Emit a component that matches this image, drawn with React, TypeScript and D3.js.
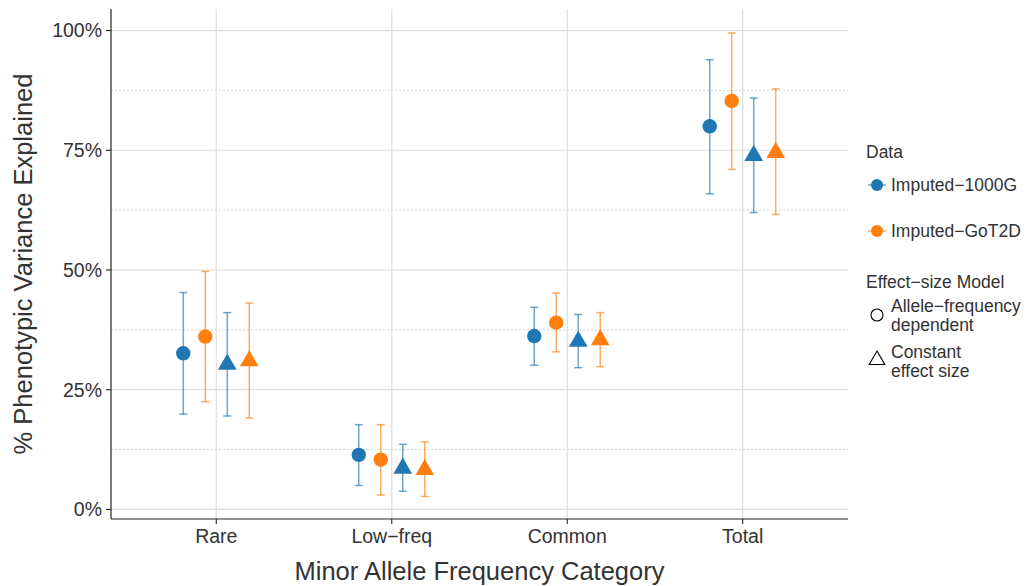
import React from "react";
import * as d3 from "d3";

const categories = ["Rare", "Low−freq", "Common", "Total"];
const groups = ["1000G-AF", "GoT2D-AF", "1000G-CE", "GoT2D-CE"];
const groupData = ["Imputed−1000G", "Imputed−GoT2D", "Imputed−1000G", "Imputed−GoT2D"];
const groupModel = ["af", "af", "ce", "ce"];

// estimate, lower, upper per group, in category order
const est1000gAF = [32.6, 11.4, 36.2, 80.0];
const lo1000gAF = [19.9, 5.0, 30.1, 65.9];
const hi1000gAF = [45.3, 17.7, 42.2, 93.9];

const estGot2dAF = [36.1, 10.4, 39.0, 85.3];
const loGot2dAF = [22.5, 3.0, 32.9, 71.0];
const hiGot2dAF = [49.7, 17.7, 45.2, 99.5];

const est1000gCE = [30.3, 8.6, 35.1, 73.9];
const lo1000gCE = [19.5, 3.8, 29.6, 62.0];
const hi1000gCE = [41.1, 13.6, 40.7, 85.9];

const estGot2dCE = [31.0, 8.3, 35.4, 74.5];
const loGot2dCE = [19.1, 2.7, 29.8, 61.6];
const hiGot2dCE = [43.1, 14.1, 41.1, 87.8];

const yTicks = [0, 25, 50, 75, 100];
const yMinor = [12.5, 37.5, 62.5, 87.5];

const colors: Record<string, string> = {
  "Imputed−1000G": "#1f77b4",
  "Imputed−GoT2D": "#ff7f0e",
};

const FONT = "'Liberation Sans', Arial, Helvetica, sans-serif";
const TEXT = "#333333";

const width = 1027;
const height = 586;
const margin = { top: 9, right: 179, bottom: 67, left: 111 };

const estimates = [est1000gAF, estGot2dAF, est1000gCE, estGot2dCE];
const lowers = [lo1000gAF, loGot2dAF, lo1000gCE, loGot2dCE];
const uppers = [hi1000gAF, hiGot2dAF, hi1000gCE, hiGot2dCE];

const rows = groups.flatMap((g, gi) =>
  categories.map((c, ci) => ({
    cat: c,
    group: g,
    data: groupData[gi],
    model: groupModel[gi],
    est: estimates[gi][ci],
    lo: lowers[gi][ci],
    hi: uppers[gi][ci],
  }))
);

const trianglePath = (cx: number, cy: number, r: number) => {
  const xc = (r * Math.sqrt(3)) / 2;
  return `M${cx},${cy - r}L${cx + xc},${cy + r / 2}L${cx - xc},${cy + r / 2}Z`;
};

const App = () => {
  const x = d3
    .scalePoint<string>()
    .domain(categories)
    .range([margin.left, width - margin.right])
    .padding(0.6);

  const dodge = d3
    .scaleBand<string>()
    .domain(groups)
    .range([-44, 44]);

  const y = d3
    .scaleLinear()
    .domain([-2, 104.5])
    .range([height - margin.bottom, margin.top]);

  const x0 = margin.left;
  const x1 = width - margin.right;
  const yb = height - margin.bottom;

  return (
    <svg width={width} height={height} style={{ position: "absolute", left: 0, top: 0 }}>
      <rect width={width} height={height} fill="white" />
      {/* grid */}
      {yMinor.map((t) => (
        <line key={"m" + t} x1={x0} x2={x1} y1={y(t)} y2={y(t)} stroke="#cccccc" strokeWidth={0.8} strokeDasharray="2,2" />
      ))}
      {yTicks.map((t) => (
        <line key={"g" + t} x1={x0} x2={x1} y1={y(t)} y2={y(t)} stroke="#dddddd" strokeWidth={1.2} />
      ))}
      {categories.map((c) => (
        <line key={"v" + c} x1={x(c)} x2={x(c)} y1={margin.top} y2={yb} stroke="#dddddd" strokeWidth={1.2} />
      ))}

      {/* error bars */}
      {rows.map((d, i) => {
        const cx = (x(d.cat) as number) + (dodge(d.group) as number) + dodge.bandwidth() / 2;
        const col = colors[d.data];
        return (
          <g key={"e" + i} stroke={col} strokeOpacity={0.65} strokeWidth={1.5}>
            <line x1={cx} x2={cx} y1={y(d.lo)} y2={y(d.hi)} />
            <line x1={cx - 4} x2={cx + 4} y1={y(d.lo)} y2={y(d.lo)} />
            <line x1={cx - 4} x2={cx + 4} y1={y(d.hi)} y2={y(d.hi)} />
          </g>
        );
      })}

      {/* points */}
      {rows.map((d, i) => {
        const cx = (x(d.cat) as number) + (dodge(d.group) as number) + dodge.bandwidth() / 2;
        const col = colors[d.data];
        return d.model === "af" ? (
          <circle key={"p" + i} cx={cx} cy={y(d.est)} r={7.2} fill={col} />
        ) : (
          <path key={"p" + i} d={trianglePath(cx, y(d.est), 10.8)} fill={col} />
        );
      })}

      {/* axes */}
      <line x1={x0} x2={x0} y1={margin.top} y2={yb} stroke="#222" strokeWidth={1.2} />
      <line x1={x0} x2={x1} y1={yb} y2={yb} stroke="#222" strokeWidth={1.2} />
      {yTicks.map((t) => (
        <g key={"yt" + t}>
          <line x1={x0 - 5} x2={x0} y1={y(t)} y2={y(t)} stroke="#222" strokeWidth={1.1} />
          <text x={x0 - 9} y={y(t)} dy="0.35em" textAnchor="end" fontFamily={FONT} fontSize={19.5} fill={TEXT}>
            {d3.format("d")(t) + "%"}
          </text>
        </g>
      ))}
      {categories.map((c) => (
        <g key={"xt" + c}>
          <line x1={x(c)} x2={x(c)} y1={yb} y2={yb + 5} stroke="#222" strokeWidth={1.1} />
          <text x={x(c)} y={yb + 24} textAnchor="middle" fontFamily={FONT} fontSize={19.5} fill={TEXT}>
            {c}
          </text>
        </g>
      ))}

      {/* axis titles */}
      <text x={(x0 + x1) / 2} y={580} textAnchor="middle" fontFamily={FONT} fontSize={25.5} fill={TEXT}>
        Minor Allele Frequency Category
      </text>
      <text
        transform={`translate(32,${(margin.top + yb) / 2}) rotate(-90)`}
        textAnchor="middle"
        fontFamily={FONT}
        fontSize={25.5}
        fill={TEXT}
      >
        % Phenotypic Variance Explained
      </text>

      {/* legend */}
      <g fontFamily={FONT} fill={TEXT}>
        <text x={866} y={158} fontSize={17.5}>Data</text>
        {["Imputed−1000G", "Imputed−GoT2D"].map((k, i) => {
          const ky = 185 + i * 46;
          return (
            <g key={k}>
              <line x1={868} x2={886} y1={ky} y2={ky} stroke={colors[k]} strokeOpacity={0.65} strokeWidth={1.5} />
              <circle cx={877} cy={ky} r={6} fill={colors[k]} />
              <text x={891} y={ky} dy="0.35em" fontSize={17.5}>{k}</text>
            </g>
          );
        })}
        <text x={866} y={288} fontSize={17.5}>Effect−size Model</text>
        <circle cx={877} cy={315} r={6} fill="none" stroke="#000" strokeWidth={1.1} />
        <text x={891} y={312} fontSize={17.5}>Allele−frequency</text>
        <text x={891} y={331} fontSize={17.5}>dependent</text>
        <path d={trianglePath(877, 360, 9)} fill="none" stroke="#000" strokeWidth={1.1} />
        <text x={891} y={358} fontSize={17.5}>Constant</text>
        <text x={891} y={377} fontSize={17.5}>effect size</text>
      </g>
    </svg>
  );
};

export default App;
